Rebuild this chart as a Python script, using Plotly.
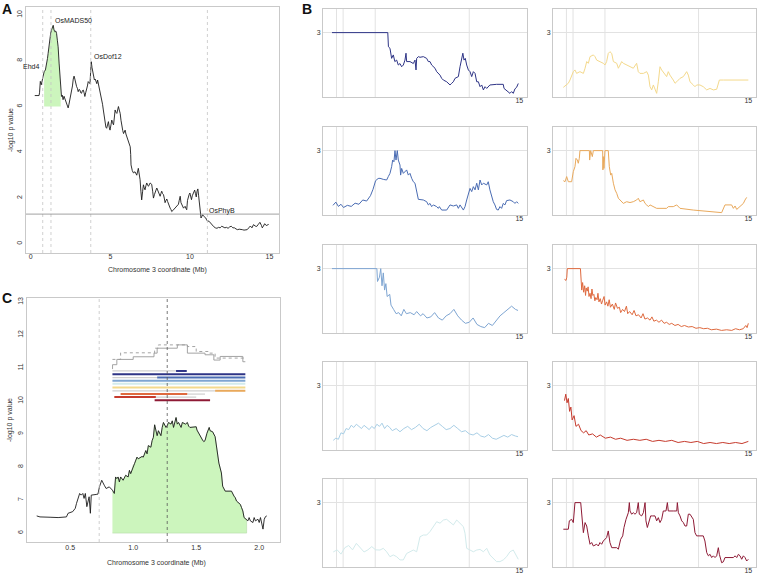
import plotly.graph_objects as go

# ---------------- data ----------------
GENE_NAMES = ["Ehd4", "OsMADS50", "OsDof12", "OsPhyB"]
GENE_POS_MB = [0.75, 1.27, 3.77, 11.1]
GENE_LABEL_XY = [(0.63, 7.73), (1.39, 9.74), (3.84, 8.17), (11.09, 1.44)]
SIG_THRESHOLD = 1.3
QTL_START, QTL_END, QTL_BASE = 0.835, 1.9, 6.0
C_REGION_LINES = [0.73, 1.27]

A_POINTS = [
    (0.25, 6.48), (0.52, 6.48), (0.55, 6.6), (0.6, 7.1), (0.66, 6.95), (0.74, 7.23), (0.84, 7.52),
    (0.92, 7.6), (0.99, 7.8), (1.05, 8.1), (1.09, 8.32), (1.15, 8.7), (1.2, 8.98), (1.25, 9.2),
    (1.3, 9.34), (1.35, 9.5), (1.41, 9.55), (1.46, 9.35), (1.51, 9.27), (1.57, 9.3), (1.62, 9.2),
    (1.67, 8.9), (1.72, 8.61), (1.78, 7.9), (1.83, 7.3), (1.88, 6.8), (1.93, 6.44), (1.98, 6.5),
    (2.03, 6.3), (2.09, 6.45), (2.14, 6.36), (2.2, 6.25), (2.25, 6.15), (2.3, 6.1), (2.35, 5.94),
    (2.4, 6.1), (2.46, 6.3), (2.51, 6.5), (2.56, 6.72), (2.62, 6.9), (2.67, 7.2), (2.72, 7.33),
    (2.77, 7.2), (2.82, 7.0), (2.88, 6.87), (2.93, 6.8), (2.98, 6.65), (3.04, 6.75), (3.09, 6.72),
    (3.14, 6.6), (3.19, 6.58), (3.25, 6.7), (3.3, 6.72), (3.35, 6.6), (3.4, 6.44), (3.45, 6.6),
    (3.51, 6.72), (3.56, 6.9), (3.61, 7.09), (3.66, 7.05), (3.72, 7.0), (3.77, 7.6), (3.8, 7.96),
    (3.85, 7.7), (3.89, 7.52), (3.95, 7.3), (4.0, 7.16), (4.05, 7.2), (4.1, 7.09), (4.15, 7.0),
    (4.2, 7.16), (4.28, 6.9), (4.35, 6.72), (4.4, 6.5), (4.46, 6.3), (4.51, 6.1), (4.56, 5.85),
    (4.62, 5.5), (4.67, 5.27), (4.72, 5.1), (4.77, 5.05), (4.82, 5.2), (4.88, 5.34), (4.93, 5.1),
    (4.98, 4.97), (5.04, 5.2), (5.09, 5.41), (5.14, 5.3), (5.2, 5.2), (5.25, 5.5), (5.3, 5.85),
    (5.35, 5.75), (5.41, 5.7), (5.46, 5.85), (5.51, 6.0), (5.56, 5.85), (5.62, 5.7), (5.67, 5.4),
    (5.72, 5.12), (5.78, 4.95), (5.83, 4.82), (5.88, 4.9), (5.93, 4.97), (5.98, 4.8), (6.04, 4.67),
    (6.09, 4.6), (6.14, 4.53), (6.2, 4.4), (6.25, 4.24), (6.28, 3.9), (6.3, 3.45), (6.38, 3.2),
    (6.45, 3.1), (6.55, 3.15), (6.66, 3.0), (6.76, 3.3), (6.82, 3.0), (6.87, 2.8), (6.92, 2.3),
    (6.97, 1.92), (7.03, 2.3), (7.08, 2.58), (7.13, 2.45), (7.18, 2.36), (7.24, 2.55), (7.29, 2.66),
    (7.35, 2.55), (7.4, 2.52), (7.5, 2.66), (7.6, 2.6), (7.66, 2.3), (7.71, 2.0), (7.77, 2.15),
    (7.82, 2.22), (7.87, 2.35), (7.92, 2.44), (8.0, 2.3), (8.07, 2.2), (8.13, 2.08), (8.18, 2.2),
    (8.23, 2.3), (8.28, 2.2), (8.34, 2.15), (8.39, 2.0), (8.44, 1.8), (8.5, 1.9), (8.55, 1.96),
    (8.6, 1.85), (8.65, 1.73), (8.7, 1.65), (8.76, 1.56), (8.81, 1.5), (8.86, 1.41), (8.92, 1.45),
    (8.97, 1.49), (9.02, 1.52), (9.07, 1.56), (9.12, 1.6), (9.18, 1.64), (9.23, 1.7), (9.28, 1.73),
    (9.33, 1.9), (9.39, 2.08), (9.44, 1.8), (9.49, 1.73), (9.55, 1.6), (9.6, 1.56), (9.65, 1.6),
    (9.7, 1.64), (9.75, 1.55), (9.8, 1.49), (9.85, 1.9), (9.9, 2.08), (9.95, 2.15), (10.0, 2.22),
    (10.05, 2.0), (10.1, 1.93), (10.15, 2.1), (10.2, 2.2), (10.25, 2.3), (10.3, 2.35), (10.35, 2.2),
    (10.4, 2.05), (10.45, 2.3), (10.5, 2.4), (10.55, 2.1), (10.6, 1.78), (10.65, 1.4), (10.7, 1.13),
    (10.75, 1.2), (10.8, 1.27), (10.85, 1.22), (10.9, 1.2), (10.95, 1.18), (11.0, 1.13), (11.05, 1.05),
    (11.1, 1.0), (11.2, 0.99), (11.3, 0.9), (11.4, 0.84), (11.5, 0.75), (11.6, 0.7), (11.7, 0.68),
    (11.8, 0.72), (11.9, 0.7), (12.0, 0.77), (12.1, 0.72), (12.2, 0.7), (12.3, 0.72), (12.4, 0.68),
    (12.5, 0.74), (12.6, 0.77), (12.7, 0.7), (12.8, 0.7), (12.9, 0.65), (13.0, 0.62), (13.1, 0.64),
    (13.2, 0.64), (13.3, 0.62), (13.4, 0.6), (13.5, 0.6), (13.6, 0.62), (13.7, 0.7), (13.8, 0.78),
    (13.9, 0.7), (14.0, 0.84), (14.1, 0.78), (14.2, 0.76), (14.3, 0.85), (14.4, 0.94), (14.5, 0.8),
    (14.55, 0.7), (14.6, 0.75), (14.7, 0.88), (14.8, 0.8), (14.9, 0.84), (14.95, 0.85),
]

C_POINTS = [
    (0.234, 6.52), (0.26, 6.49), (0.34, 6.48), (0.404, 6.47), (0.47, 6.49), (0.483, 6.6), (0.52, 6.65),
    (0.54, 6.75), (0.55, 6.9), (0.56, 7.05), (0.575, 7.2), (0.587, 7.15), (0.6, 7.2), (0.61, 7.05),
    (0.62, 7.2), (0.632, 6.8), (0.65, 7.1), (0.66, 6.6), (0.667, 7.15), (0.706, 7.17), (0.72, 7.18),
    (0.732, 7.4), (0.75, 7.6), (0.77, 7.45), (0.785, 7.35), (0.81, 7.4), (0.835, 7.3), (0.85, 7.2),
    (0.86, 7.7), (0.87, 7.65), (0.88, 7.7), (0.89, 7.55), (0.9, 7.7), (0.92, 7.6), (0.94, 7.75),
    (0.96, 7.7), (0.97, 7.9), (0.98, 7.8), (1.0, 8.05), (1.01, 8.1), (1.03, 8.3), (1.04, 8.25),
    (1.07, 8.32), (1.08, 8.3), (1.1, 8.5), (1.11, 8.4), (1.12, 8.65), (1.14, 8.6), (1.15, 8.8),
    (1.16, 8.9), (1.17, 9.28), (1.19, 8.95), (1.2, 9.1), (1.22, 8.95), (1.23, 9.2), (1.24, 9.35),
    (1.26, 9.2), (1.27, 9.25), (1.28, 9.35), (1.3, 9.3), (1.31, 9.4), (1.32, 9.2), (1.34, 9.5),
    (1.35, 9.3), (1.36, 9.35), (1.38, 9.2), (1.39, 9.35), (1.415, 9.3), (1.43, 9.35), (1.44, 9.24),
    (1.45, 9.2), (1.47, 9.21), (1.5, 9.22), (1.506, 9.12), (1.52, 9.02), (1.53, 8.92), (1.55, 8.82),
    (1.56, 8.77), (1.57, 8.8), (1.585, 9.02), (1.595, 9.12), (1.603, 9.2), (1.61, 9.1), (1.63, 9.07),
    (1.65, 8.92), (1.66, 8.67), (1.67, 8.32), (1.68, 8.12), (1.7, 7.82), (1.71, 7.42), (1.73, 7.27),
    (1.78, 7.27), (1.8, 7.12), (1.81, 7.07), (1.82, 6.97), (1.84, 6.92), (1.85, 6.87), (1.86, 6.77),
    (1.87, 6.67), (1.88, 6.47), (1.9, 6.42), (1.91, 6.37), (1.92, 6.47), (1.93, 6.37), (1.95, 6.32),
    (1.96, 6.47), (1.97, 6.37), (1.99, 6.42), (2.0, 6.32), (2.01, 6.47), (2.03, 6.12), (2.04, 6.42),
    (2.05, 6.5), (2.06, 6.52),
]

C_SOLID_STEPS = [(0.835, 10.97), (0.836, 11.1), (0.87, 11.26), (1.0, 11.34), (1.165, 11.45),
                 (1.19, 11.6), (1.35, 11.7), (1.43, 11.45), (1.57, 11.4), (1.64, 11.24),
                 (1.69, 11.35), (1.87, 11.19), (1.89, 11.19)]
C_DOTTED_STEPS = [(0.835, 11.26), (0.9, 11.46), (1.17, 11.6), (1.2, 11.7), (1.43, 11.65),
                  (1.5, 11.5), (1.6, 11.45), (1.65, 11.3), (1.75, 11.3), (1.89, 11.3)]

# interval tracks in C: (row value, start Mb, end Mb, series index or None for grey)
C_INTERVALS = [
    (10.91, 0.835, 1.34, None), (10.91, 1.34, 1.425, 0),
    (10.81, 0.835, 1.89, 0),
    (10.71, 0.835, 1.19, None), (10.71, 1.19, 1.89, 1),
    (10.61, 0.835, 1.89, 2),
    (10.52, 0.835, 1.89, 4),
    (10.41, 0.835, 1.89, 5),
    (10.31, 0.835, 1.65, None), (10.31, 1.65, 1.89, 6),
    (10.21, 0.9, 1.43, 7), (10.21, 1.43, 1.57, None),
    (10.12, 0.85, 1.18, 8), (10.12, 1.18, 1.5, None),
    (10.02, 1.17, 1.61, 9),
]

B_NAVY = [(0.4, 3.0), (4.75, 3.0), (4.8, 2.34), (4.92, 2.27), (5.05, 1.8), (5.18, 1.96), (5.3, 1.65),
          (5.44, 1.72), (5.57, 1.49), (5.7, 1.56), (5.83, 1.41), (5.96, 1.49), (6.09, 1.72), (6.17, 2.04),
          (6.22, 1.65), (6.48, 1.65), (6.74, 1.56), (6.87, 1.72), (6.95, 1.26), (7.0, 1.8), (7.13, 1.88),
          (7.26, 1.85), (7.52, 1.88), (7.78, 1.8), (7.91, 1.65), (8.04, 1.65), (8.17, 1.49), (8.3, 1.41),
          (8.43, 1.34), (8.56, 1.18), (8.82, 1.02), (8.95, 0.87), (9.08, 0.79), (9.34, 0.71), (9.47, 0.64),
          (9.6, 0.56), (9.73, 0.64), (9.86, 0.71), (9.99, 0.87), (10.25, 0.95), (10.38, 1.41), (10.51, 1.72),
          (10.6, 2.04), (10.69, 1.72), (10.79, 1.8), (10.9, 1.49), (11.03, 1.26), (11.16, 1.18), (11.29, 0.95),
          (11.42, 1.18), (11.55, 1.1), (11.68, 0.71), (11.81, 0.71), (11.94, 0.48), (12.07, 0.56), (12.2, 0.33),
          (12.33, 0.48), (12.46, 0.4), (12.71, 0.56), (13.23, 0.59), (13.75, 0.59), (13.81, 0.4), (13.96, 0.33),
          (14.09, 0.25), (14.27, 0.17), (14.4, 0.25), (14.53, 0.17), (14.66, 0.38), (14.79, 0.45), (14.92, 0.63)]
B_BLUE = [(0.48, 0.45), (0.7, 0.6), (0.9, 0.4), (1.1, 0.5), (1.3, 0.35), (1.6, 0.45), (1.9, 0.4), (2.2, 0.55),
          (2.5, 0.5), (2.8, 0.7), (3.1, 0.65), (3.4, 0.9), (3.6, 1.2), (3.8, 1.6), (4.0, 1.7), (4.14, 1.71),
          (4.4, 1.66), (4.66, 1.63), (4.79, 1.79), (4.92, 1.94), (5.05, 2.25), (5.13, 2.56), (5.23, 2.48),
          (5.31, 3.0), (5.39, 2.56), (5.49, 3.0), (5.57, 2.56), (5.7, 2.33), (5.75, 1.86), (5.83, 2.17),
          (5.96, 1.94), (6.09, 2.02), (6.22, 2.1), (6.35, 1.86), (6.48, 1.94), (6.61, 1.71), (6.74, 1.55),
          (6.87, 1.48), (7.0, 1.17), (7.13, 0.73), (7.52, 0.7), (7.78, 0.62), (7.91, 0.47), (8.04, 0.54),
          (8.17, 0.39), (8.3, 0.47), (8.56, 0.39), (8.69, 0.31), (8.77, 0.39), (8.95, 0.23), (9.34, 0.23),
          (9.47, 0.39), (9.6, 0.47), (9.86, 0.42), (10.12, 0.47), (10.25, 0.31), (10.38, 0.47), (10.64, 0.23),
          (10.77, 0.39), (10.9, 0.7), (11.03, 0.93), (11.16, 1.24), (11.29, 1.09), (11.42, 1.32), (11.55, 1.17),
          (11.68, 1.48), (11.81, 1.17), (11.94, 1.63), (12.07, 1.4), (12.2, 1.48), (12.46, 1.4), (12.58, 1.55),
          (12.71, 1.17), (12.84, 0.85), (12.97, 0.62), (13.1, 0.47), (13.23, 0.26), (13.36, 0.23), (13.49, 0.39),
          (13.62, 0.31), (13.75, 0.54), (13.88, 0.47), (14.01, 0.67), (14.27, 0.7), (14.53, 0.62), (14.66, 0.54),
          (14.79, 0.62), (14.92, 0.54)]
B_LIGHTBLUE = [(0.4, 3.0), (3.9, 3.0), (3.95, 2.4), (4.1, 2.6), (4.2, 3.0), (4.3, 2.2), (4.4, 2.8), (4.5, 2.0),
               (4.6, 2.3), (4.7, 1.7), (4.9, 1.8), (5.0, 1.3), (5.2, 1.1), (5.4, 0.9), (5.6, 0.95), (5.8, 0.8),
               (6.0, 1.1), (6.2, 0.9), (6.5, 0.95), (6.8, 0.85), (7.0, 1.0), (7.3, 0.8), (7.5, 0.9), (7.8, 0.7),
               (8.1, 0.75), (8.4, 0.95), (8.7, 0.7), (9.0, 0.6), (9.3, 0.8), (9.6, 0.9), (9.9, 1.1), (10.2, 0.8),
               (10.5, 0.6), (10.8, 0.45), (11.1, 0.5), (11.4, 0.7), (11.7, 0.4), (12.0, 0.3), (12.3, 0.25),
               (12.6, 0.45), (12.9, 0.35), (13.2, 0.6), (13.5, 0.8), (13.8, 0.95), (14.1, 1.1), (14.4, 1.25),
               (14.7, 1.1), (14.9, 1.05)]
B_PALEBLUE = [(0.5, 0.45), (0.7, 0.55), (0.9, 0.5), (1.1, 0.8), (1.3, 0.75), (1.5, 1.0), (1.7, 0.95),
              (1.9, 1.15), (2.1, 1.05), (2.3, 1.2), (2.5, 1.1), (2.7, 1.0), (2.9, 1.15), (3.1, 1.05),
              (3.3, 0.95), (3.5, 1.1), (3.7, 1.0), (3.9, 1.2), (4.1, 1.1), (4.3, 1.25), (4.5, 1.0), (4.7, 1.15),
              (4.9, 1.05), (5.1, 0.9), (5.4, 1.0), (5.7, 0.85), (6.0, 1.0), (6.3, 1.1), (6.6, 0.95), (6.9, 1.05),
              (7.2, 1.2), (7.5, 1.0), (7.8, 0.9), (8.1, 1.05), (8.4, 1.15), (8.7, 1.25), (9.0, 1.1), (9.3, 0.95),
              (9.6, 1.0), (9.9, 1.15), (10.2, 1.0), (10.5, 0.85), (10.8, 0.9), (11.1, 0.75), (11.4, 0.7),
              (11.7, 0.8), (12.0, 0.65), (12.3, 0.6), (12.6, 0.72), (12.9, 0.55), (13.2, 0.5), (13.5, 0.6),
              (13.8, 0.68), (14.1, 0.6), (14.4, 0.72), (14.7, 0.65), (14.9, 0.62)]
B_PALEST = [(0.5, 0.7), (0.8, 0.8), (1.1, 0.6), (1.4, 0.9), (1.7, 1.0), (2.0, 0.8), (2.3, 1.1), (2.6, 0.9),
            (2.9, 0.7), (3.2, 0.8), (3.5, 0.95), (3.8, 0.8), (4.14, 0.79), (4.4, 0.87), (4.66, 0.71), (4.92, 0.48),
            (5.18, 0.56), (5.44, 0.48), (5.7, 0.33), (5.96, 0.33), (6.22, 0.63), (6.48, 0.71), (6.74, 0.79),
            (7.0, 0.71), (7.26, 1.41), (7.52, 1.49), (7.78, 1.49), (8.04, 1.65), (8.3, 1.88), (8.56, 2.11),
            (8.82, 2.04), (9.08, 2.19), (9.34, 2.22), (9.6, 2.11), (9.86, 1.96), (10.12, 2.19), (10.38, 2.04),
            (10.64, 1.88), (10.77, 1.57), (10.9, 0.87), (11.16, 0.79), (11.42, 0.71), (11.68, 0.79), (11.94, 0.82),
            (12.2, 0.71), (12.46, 0.87), (12.71, 0.56), (12.97, 0.4), (13.23, 0.25), (13.49, 0.25), (13.75, 0.33),
            (14.01, 0.48), (14.27, 0.71), (14.53, 0.79), (14.66, 0.63), (14.79, 0.48), (14.92, 0.36)]
B_YELLOW = [(0.51, 0.45), (0.77, 0.56), (0.9, 0.64), (1.03, 0.79), (1.29, 1.18), (1.42, 1.26), (1.55, 1.1),
            (1.81, 1.18), (2.08, 1.1), (2.21, 1.34), (2.34, 1.65), (2.47, 1.57), (2.6, 1.88), (2.86, 1.96),
            (2.99, 1.88), (3.12, 1.72), (3.38, 1.65), (3.64, 1.57), (3.77, 1.49), (3.9, 1.65), (4.03, 2.03),
            (4.16, 2.11), (4.3, 2.03), (4.43, 1.65), (4.69, 1.57), (4.82, 1.34), (4.95, 1.49), (5.08, 1.65),
            (5.21, 1.57), (5.47, 1.49), (5.73, 1.41), (5.99, 1.34), (6.25, 1.57), (6.38, 1.18), (6.51, 1.1),
            (6.78, 1.1), (7.04, 1.18), (7.17, 1.02), (7.3, 0.48), (7.43, 0.33), (7.56, 0.56), (7.69, 0.33),
            (7.82, 0.17), (7.95, 0.71), (8.08, 1.41), (8.21, 1.26), (8.47, 1.02), (8.6, 0.95), (8.73, 1.18),
            (8.86, 1.02), (9.12, 0.79), (9.26, 0.64), (9.39, 0.71), (9.65, 0.87), (9.91, 0.95), (10.17, 1.18),
            (10.3, 1.02), (10.43, 0.71), (10.69, 0.56), (10.82, 0.48), (10.95, 0.56), (11.21, 0.56), (11.47, 0.48),
            (11.74, 0.33), (12.0, 0.4), (12.26, 0.33), (12.52, 0.36), (12.73, 0.79), (13.04, 0.79), (15.0, 0.79)]
B_ORANGE = [(0.51, 1.6), (0.64, 1.55), (0.77, 1.79), (0.9, 1.55), (1.16, 1.55), (1.29, 2.02), (1.42, 2.25),
            (1.5, 2.64), (1.61, 2.56), (1.68, 2.41), (1.76, 2.64), (1.81, 3.0), (2.55, 3.0), (2.57, 2.56),
            (2.65, 3.0), (2.78, 2.72), (2.86, 3.0), (3.59, 3.0), (3.61, 2.1), (3.64, 2.72), (3.69, 2.17),
            (3.77, 3.0), (4.03, 3.0), (4.11, 2.25), (4.22, 1.86), (4.3, 1.94), (4.43, 1.48), (4.56, 1.17),
            (4.69, 1.01), (4.82, 0.78), (4.95, 0.7), (5.08, 0.62), (5.21, 0.54), (5.47, 0.62), (5.73, 0.58),
            (5.99, 0.62), (6.25, 0.7), (6.38, 0.78), (6.51, 0.62), (6.78, 0.7), (6.91, 0.54), (7.04, 0.47),
            (7.17, 0.39), (7.3, 0.47), (7.56, 0.39), (7.82, 0.31), (8.08, 0.31), (8.34, 0.31), (8.6, 0.31),
            (8.73, 0.39), (9.12, 0.39), (9.39, 0.47), (9.52, 0.39), (9.65, 0.31), (10.69, 0.23), (12.0, 0.16),
            (12.91, 0.11), (13.17, 0.47), (13.43, 0.47), (13.69, 0.47), (13.83, 0.31), (13.96, 0.42),
            (14.09, 0.26), (14.35, 0.39), (14.48, 0.47), (14.61, 0.54), (14.74, 0.7), (14.87, 0.82)]
B_VERMILION = [(0.6, 2.5), (0.72, 2.45), (0.78, 2.6), (0.82, 3.0), (1.85, 3.0), (1.88, 2.3), (1.95, 2.0),
               (2.02, 2.35), (2.1, 1.9), (2.18, 2.2), (2.25, 1.75), (2.3, 2.1), (2.38, 1.95), (2.45, 2.15),
               (2.52, 1.7), (2.6, 1.85), (2.68, 1.6), (2.75, 2.05), (2.82, 1.75), (2.9, 1.8), (2.98, 1.5),
               (3.05, 1.65), (3.15, 1.55), (3.22, 1.85), (3.3, 1.45), (3.4, 1.6), (3.5, 1.35), (3.58, 1.5),
               (3.7, 1.7), (3.78, 1.3), (3.9, 1.45), (4.0, 1.25), (4.1, 1.55), (4.2, 1.2), (4.35, 1.35),
               (4.5, 1.1), (4.6, 1.4), (4.75, 1.15), (4.9, 1.2), (5.0, 0.95), (5.15, 1.1), (5.3, 1.0),
               (5.45, 1.25), (5.55, 0.9), (5.7, 1.0), (5.9, 0.85), (6.05, 1.05), (6.2, 0.8), (6.4, 0.85),
               (6.6, 0.7), (6.75, 0.9), (6.9, 0.65), (7.1, 0.7), (7.3, 0.6), (7.45, 0.75), (7.6, 0.55),
               (7.8, 0.6), (8.0, 0.5), (8.2, 0.6), (8.4, 0.45), (8.6, 0.5), (8.8, 0.4), (9.0, 0.45),
               (9.25, 0.35), (9.5, 0.4), (9.75, 0.3), (10.0, 0.35), (10.3, 0.28), (10.6, 0.3), (10.9, 0.22),
               (11.2, 0.25), (11.5, 0.2), (11.8, 0.22), (12.1, 0.15), (12.5, 0.18), (12.9, 0.12), (13.3, 0.15),
               (13.7, 0.12), (14.0, 0.2), (14.3, 0.15), (14.6, 0.2), (14.8, 0.35), (14.9, 0.25), (15.0, 0.45)]
B_RED = [(0.6, 2.3), (0.7, 2.6), (0.8, 2.2), (0.9, 2.4), (1.0, 1.8), (1.1, 2.0), (1.2, 1.4), (1.35, 1.6),
         (1.5, 1.1), (1.7, 1.2), (1.9, 0.9), (2.1, 0.8), (2.3, 0.9), (2.5, 0.7), (2.8, 0.75), (3.1, 0.6),
         (3.4, 0.7), (3.8, 0.55), (4.2, 0.6), (4.6, 0.5), (5.0, 0.55), (5.5, 0.45), (6.0, 0.5), (6.5, 0.45),
         (7.0, 0.5), (7.5, 0.4), (8.0, 0.45), (8.5, 0.4), (9.0, 0.45), (9.5, 0.35), (10.0, 0.4), (10.5, 0.35),
         (11.0, 0.4), (11.5, 0.3), (12.0, 0.35), (12.5, 0.3), (13.0, 0.35), (13.5, 0.3), (14.0, 0.35),
         (14.5, 0.3), (15.0, 0.4)]
B_DARKRED = [(0.51, 1.76), (0.9, 1.76), (0.98, 2.15), (1.16, 2.22), (1.29, 2.07), (1.42, 3.0), (1.87, 3.0),
             (1.95, 2.46), (2.08, 1.6), (2.21, 2.07), (2.34, 1.91), (2.47, 1.45), (2.6, 1.06), (2.73, 1.14),
             (2.86, 0.98), (3.12, 1.06), (3.25, 0.98), (3.38, 1.14), (3.51, 1.06), (3.64, 1.21), (3.9, 1.37),
             (4.03, 1.68), (4.16, 1.14), (4.3, 0.9), (4.43, 0.9), (4.69, 0.9), (4.82, 0.83), (4.9, 1.06),
             (5.0, 1.29), (5.16, 1.45), (5.26, 1.84), (5.42, 2.22), (5.6, 2.53), (5.68, 3.0), (5.73, 2.61),
             (5.86, 2.46), (5.99, 2.53), (6.12, 2.46), (6.25, 2.53), (6.38, 3.0), (6.46, 2.46), (6.64, 2.38),
             (6.78, 2.53), (6.91, 3.0), (6.98, 2.15), (7.09, 1.84), (7.25, 2.15), (7.35, 2.38), (7.51, 2.38),
             (7.69, 2.38), (7.82, 2.15), (7.95, 2.3), (8.08, 2.07), (8.21, 2.22), (8.34, 2.61), (8.55, 2.61),
             (8.66, 3.0), (8.73, 2.61), (9.12, 2.61), (9.39, 2.61), (9.44, 3.0), (9.52, 2.53), (9.65, 2.38),
             (9.78, 2.15), (9.91, 2.07), (10.04, 1.91), (10.17, 1.91), (10.3, 2.46), (10.43, 2.46), (10.69, 2.22),
             (10.82, 1.6), (10.95, 1.45), (11.21, 1.45), (11.47, 1.45), (11.6, 1.21), (11.74, 0.67), (11.87, 0.52),
             (12.0, 0.59), (12.13, 0.44), (12.26, 0.52), (12.39, 0.44), (12.52, 0.52), (12.65, 0.9), (12.73, 0.59),
             (12.91, 0.2), (13.04, 0.24), (13.17, 0.44), (13.56, 0.44), (13.83, 0.44), (13.96, 0.52), (14.09, 0.44),
             (14.22, 0.59), (14.35, 0.52), (14.48, 0.36), (14.61, 0.52), (14.74, 0.44), (14.87, 0.28), (15.0, 0.36)]

B_SERIES = [B_NAVY, B_BLUE, B_LIGHTBLUE, B_PALEBLUE, B_PALEST,
            B_YELLOW, B_ORANGE, B_VERMILION, B_RED, B_DARKRED]
B_COLORS = ["#2e3486", "#4a6cb3", "#7ea5d2", "#a9cfe6", "#d3ebec",
            "#f4d98c", "#e9a95c", "#df6a3f", "#c63b2d", "#8e1a35"]
B_CAP_TICK = 3
B_END_TICK = 15

# ---------------- layout helpers ----------------
W, H = 757, 579
FONT = "Liberation Sans, Arial, sans-serif"
BOX = "#c9c9c9"
FS = 7


def xdom(left, right):
    return [left / W, right / W]


def ydom(top, bottom):
    return [1 - bottom / H, 1 - top / H]


def unzip(points):
    return [p[0] for p in points], [p[1] for p in points]


fig = go.Figure()
shapes = []
annotations = []

axis_common = dict(showline=True, mirror=True, linecolor=BOX, linewidth=1, ticks="",
                   zeroline=False, showgrid=False,
                   tickfont=dict(family=FONT, size=FS, color="#333"))

layout_axes = {}

# ---- Panel A ----
ax, ay = unzip(A_POINTS)
fx = [x for x in ax if QTL_START <= x <= QTL_END]
fy = [y for x, y in zip(ax, ay) if QTL_START <= x <= QTL_END]
fig.add_trace(go.Scatter(x=fx + [fx[-1], fx[0]], y=fy + [QTL_BASE, QTL_BASE], fill="toself",
                         fillcolor="#ccf5bd", line=dict(width=0), mode="lines", hoverinfo="skip",
                         xaxis="x", yaxis="y"))
fig.add_trace(go.Scatter(x=ax, y=ay, mode="lines", line=dict(color="#1b1b1b", width=0.9),
                         xaxis="x", yaxis="y"))
layout_axes["xaxis"] = dict(axis_common, domain=xdom(26, 279), range=[-0.3, 15.6],
                            tickvals=[0, 5, 10, 15], anchor="y", ticklabelstandoff=-3)
layout_axes["yaxis"] = dict(axis_common, domain=ydom(7, 253), range=[-0.4, 10.35],
                            tickvals=[0, 2, 4, 6, 8, 10], tickangle=-90, anchor="x")
for g in GENE_POS_MB:
    shapes.append(dict(type="line", xref="x", yref="y domain", x0=g, x1=g, y0=0, y1=1,
                       line=dict(color="#c4c4c4", width=0.8, dash="dot")))
shapes.append(dict(type="line", xref="x domain", yref="y", x0=0, x1=1, y0=SIG_THRESHOLD,
                   y1=SIG_THRESHOLD, line=dict(color="#8a8a8a", width=0.8)))
for name, (lx, ly), anchor in zip(GENE_NAMES, GENE_LABEL_XY, ["right", "left", "left", "left"]):
    annotations.append(dict(text=name, x=lx, y=ly, xref="x", yref="y", showarrow=False,
                            xanchor=anchor, yanchor="middle",
                            font=dict(family=FONT, size=FS, color="#222")))

# ---- Panel C ----
cx, cy = unzip(C_POINTS)
gx = [x for x in cx if QTL_START <= x <= QTL_END]
gy = [y for x, y in zip(cx, cy) if QTL_START <= x <= QTL_END]
fig.add_trace(go.Scatter(x=gx + [gx[-1], gx[0]], y=gy + [QTL_BASE, QTL_BASE], fill="toself",
                         fillcolor="#ccf5bd", line=dict(width=0.6, color="#b5dca8"), mode="lines",
                         hoverinfo="skip", xaxis="x2", yaxis="y2"))
fig.add_trace(go.Scatter(x=cx, y=cy, mode="lines", line=dict(color="#1b1b1b", width=0.9),
                         xaxis="x2", yaxis="y2"))
sx, sy = unzip(C_SOLID_STEPS)
fig.add_trace(go.Scatter(x=sx, y=sy, mode="lines", line=dict(color="#9a9a9a", width=0.9, shape="hv"),
                         xaxis="x2", yaxis="y2"))
dx, dy = unzip(C_DOTTED_STEPS)
fig.add_trace(go.Scatter(x=dx, y=dy, mode="lines",
                         line=dict(color="#9a9a9a", width=0.9, shape="hv", dash="dot"),
                         xaxis="x2", yaxis="y2"))
for row, x0, x1, idx in C_INTERVALS:
    col = "#cfcfcf" if idx is None else B_COLORS[idx]
    wid = 1.2 if idx is None else 2.0
    fig.add_trace(go.Scatter(x=[x0, x1], y=[row, row], mode="lines", line=dict(color=col, width=wid),
                             xaxis="x2", yaxis="y2"))
layout_axes["xaxis2"] = dict(axis_common, domain=xdom(27, 280), range=[0.157, 2.165],
                             tickvals=[0.5, 1.0, 1.5, 2.0], ticktext=["0.5", "1.0", "1.5", "2.0"],
                             anchor="y2", ticklabelstandoff=-1)
layout_axes["yaxis2"] = dict(axis_common, domain=ydom(298, 542), range=[5.73, 13.12],
                             tickvals=[6, 7, 8, 9, 10, 11, 12, 13], tickangle=-90, anchor="x2")
shapes.append(dict(type="line", xref="x2", yref="y2 domain", x0=C_REGION_LINES[0], x1=C_REGION_LINES[0],
                   y0=0, y1=1, line=dict(color="#c4c4c4", width=0.8, dash="dot")))
shapes.append(dict(type="line", xref="x2", yref="y2 domain", x0=C_REGION_LINES[1], x1=C_REGION_LINES[1],
                   y0=0, y1=1, line=dict(color="#555555", width=0.8, dash="dot")))

# ---- Panel B ----
COL_X = [(323, 527), (553, 756)]
ROW_TOP = [9, 127, 245, 362, 479]
ROW_H = 88
for i, (series, colr) in enumerate(zip(B_SERIES, B_COLORS)):
    c, r = divmod(i, 5)
    n = i + 3
    xa, ya = f"x{n}", f"y{n}"
    bx, by = unzip(series)
    fig.add_trace(go.Scatter(x=bx, y=by, mode="lines", line=dict(color=colr, width=1.0),
                             xaxis=xa, yaxis=ya))
    layout_axes[f"xaxis{n}"] = dict(axis_common, domain=xdom(*COL_X[c]), range=[-0.3, 15.6],
                                    tickvals=[B_END_TICK], anchor=ya, ticklabelstandoff=-3)
    layout_axes[f"yaxis{n}"] = dict(axis_common, domain=ydom(ROW_TOP[r], ROW_TOP[r] + ROW_H),
                                    range=[0, 4.1], tickvals=[B_CAP_TICK], showgrid=True,
                                    gridcolor="#e2e2e2", gridwidth=1, anchor=xa)
    for g in GENE_POS_MB:
        shapes.append(dict(type="line", xref=xa, yref=f"{ya} domain", x0=g, x1=g, y0=0, y1=1,
                           line=dict(color="#e2e2e2", width=1), layer="below"))

# ---- titles / panel letters ----
def ann(text, x, y, size=FS, bold=False, angle=0):
    annotations.append(dict(text=f"<b>{text}</b>" if bold else text, x=x / W, y=1 - y / H,
                            xref="paper", yref="paper", showarrow=False, textangle=angle,
                            xanchor="center", yanchor="middle",
                            font=dict(family=FONT, size=size, color="#111" if bold else "#333")))

ann("Chromosome 3 coordinate (Mb)", 157, 270)
ann("Chromosome 3 coordinate (Mb)", 156, 563)
ann("-log10 p value", 11, 130, angle=-90)
ann("-log10 p value", 10, 420, angle=-90)
ann("A", 7, 9, size=14, bold=True)
ann("B", 307, 9, size=14, bold=True)
ann("C", 7, 298, size=14, bold=True)

fig.update_layout(width=W, height=H, margin=dict(l=0, r=0, t=0, b=0),
                  paper_bgcolor="white", plot_bgcolor="white", showlegend=False,
                  shapes=shapes, annotations=annotations, **layout_axes)
fig.write_html("out.html", config={"displayModeBar": False},
               post_script="document.body.style.margin='0';document.body.style.overflow='hidden';")
